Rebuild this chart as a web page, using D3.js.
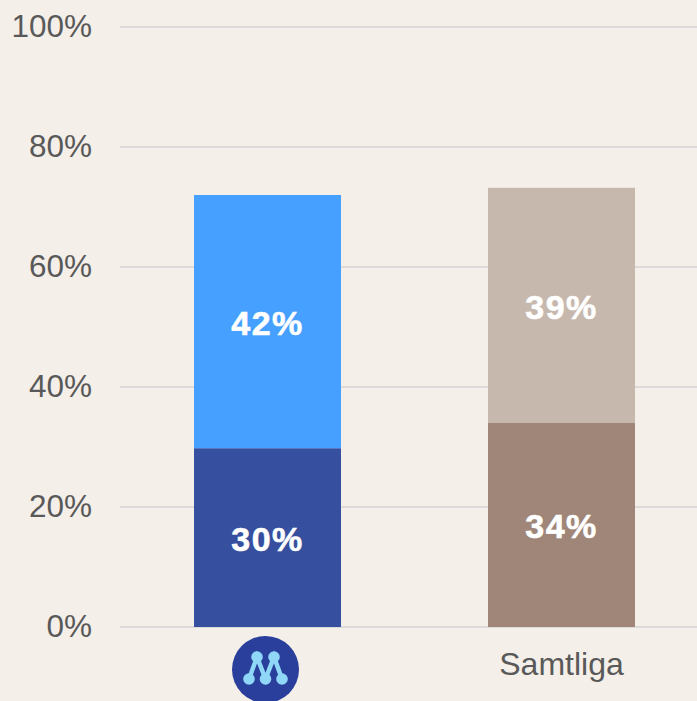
<!DOCTYPE html>
<meta charset="utf-8">
<style>
  html, body { margin: 0; padding: 0; background: #f4efe9; }
  svg { display: block; font-family: "Liberation Sans", Arial, sans-serif; }
</style>

<script src="https://d3js.org/d3.v7.min.js"></script>

<div id="page"></div>

<script>

  // Data (labels show these rounded)
  var categories = ["M", "Samtliga"];
  var lowerValues = [29.8, 34];
  var upperValues = [42.2, 39.2];
  var yTicks = [0, 20, 40, 60, 80, 100];

  var lowerColors = ["#364f9e", "#a08678"];
  var upperColors = ["#45a0ff", "#c7b8ae"];

  var width = 697, height = 701;

  var svg = d3.select("#page")
    .append("svg")
    .attr("width", width)
    .attr("height", height);

  var x_axis = d3.scaleBand()
    .domain(categories)
    .range([120.5, 708.5])
    .paddingInner(0.5)
    .paddingOuter(0.25);

  var y_axis = d3.scaleLinear()
    .domain([0, 100])
    .range([627, 27]);

  // Gridlines and y labels
  var yAxis = svg.append("g")
    .attr("transform", "translate(120,0)")
    .call(d3.axisLeft(y_axis)
      .offset(0)
      .tickValues(yTicks)
      .tickSize(-588)
      .tickPadding(28)
      .tickFormat(function (d) { return d + "%"; }));
  yAxis.select(".domain").remove();
  yAxis.selectAll("line")
    .attr("stroke", "#dddbd9")
    .attr("stroke-width", 2);
  yAxis.selectAll("text")
    .attr("font-size", "31.5px")
    .attr("font-family", "Liberation Sans")
    .attr("fill", "#595959");

  // Bars
  svg.selectAll("rect.lower")
    .data(categories)
    .enter()
    .append("rect")
    .attr("class", "lower")
    .attr("x", function (d) { return x_axis(d); })
    .attr("width", x_axis.bandwidth())
    .attr("y", function (d, i) { return y_axis(lowerValues[i]); })
    .attr("height", function (d, i) { return y_axis(0) - y_axis(lowerValues[i]); })
    .attr("fill", function (d, i) { return lowerColors[i]; });

  svg.selectAll("rect.upper")
    .data(categories)
    .enter()
    .append("rect")
    .attr("class", "upper")
    .attr("x", function (d) { return x_axis(d); })
    .attr("width", x_axis.bandwidth())
    .attr("y", function (d, i) { return y_axis(lowerValues[i] + upperValues[i]); })
    .attr("height", function (d, i) { return y_axis(0) - y_axis(upperValues[i]); })
    .attr("fill", function (d, i) { return upperColors[i]; });

  // Value labels
  function addLabels(values, base) {
    svg.selectAll(null)
      .data(categories)
      .enter()
      .append("text")
      .attr("x", function (d) { return x_axis(d) + x_axis.bandwidth() / 2; })
      .attr("y", function (d, i) { return y_axis(base[i] + values[i] / 2); })
      .attr("dy", "0.39em")
      .attr("text-anchor", "middle")
      .attr("font-size", "34px")
      .attr("font-weight", "bold")
      .attr("letter-spacing", "1.5px")
      .attr("fill", "#ffffff")
      .attr("stroke", "#ffffff")
      .attr("stroke-width", 0.6)
      .text(function (d, i) { return Math.round(values[i]) + "%"; });
  }
  addLabels(lowerValues, [0, 0]);
  addLabels(upperValues, lowerValues);

  // Second category label
  svg.append("text")
    .attr("x", x_axis("Samtliga") + x_axis.bandwidth() / 2)
    .attr("y", 675)
    .attr("text-anchor", "middle")
    .attr("font-size", "32px")
    .attr("fill", "#595959")
    .text("Samtliga");

  // Party logo in place of the first category label
  var logo = svg.append("g")
    .attr("transform", "translate(" + (x_axis("M") + x_axis.bandwidth() / 2 - 2) + ",669.5)");
  logo.append("circle").attr("r", 33.5).attr("fill", "#2a3f9b");
  logo.append("polyline")
    .attr("points", "-16.5,9.5 -8.5,-12.5 0,9.5 8.5,-12.5 16.5,9.5")
    .attr("fill", "none")
    .attr("stroke", "#8fd6f7")
    .attr("stroke-width", 4.5);
  logo.selectAll("circle.node")
    .data([[-16.5, 9.5], [-8.5, -12.5], [0, 9.5], [8.5, -12.5], [16.5, 9.5]])
    .enter()
    .append("circle")
    .attr("class", "node")
    .attr("cx", function (d) { return d[0]; })
    .attr("cy", function (d) { return d[1]; })
    .attr("r", 5.8)
    .attr("fill", "#8fd6f7");

</script>
